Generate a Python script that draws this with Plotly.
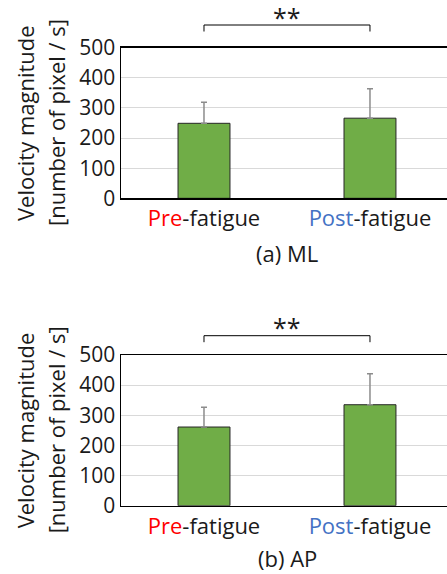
import plotly.graph_objects as go

categories = ["Pre-fatigue", "Post-fatigue"]
tick_labels = ["<span style='color:#FF0000'>Pre</span>-fatigue",
               "<span style='color:#4472C4'>Post</span>-fatigue"]
ml_mean = [249, 266]
ml_sd = [70, 98]
ap_mean = [261, 335]
ap_sd = [66, 103]
captions = ["(a) ML", "(b) AP"]
sig_label = "**"
y_ticks = [0, 100, 200, 300, 400, 500]

W, H = 447, 574
FONT = "Open Sans"
FS = 22
TFS = 21

def py(px):
    return 1 - px / H

fig = go.Figure()
xpos = [0, 1]
panels = [
    dict(mean=ml_mean, sd=ml_sd, top=47.7, bot=198.3, cap=253, brk=25, stars=17),
    dict(mean=ap_mean, sd=ap_sd, top=355, bot=505.7, cap=None, brk=335.7, stars=327),
]
for i, p in enumerate(panels):
    ax = "" if i == 0 else str(i + 1)
    fig.add_trace(go.Bar(
        x=xpos, y=p["mean"], width=0.313,
        marker=dict(color="#70AD47", line=dict(color="#262626", width=1)),
        error_y=dict(type="data", symmetric=False, array=p["sd"],
                     arrayminus=[0] * len(p["sd"]),
                     color="#8c8c8c", thickness=1.5, width=3),
        xaxis="x" + ax, yaxis="y" + ax, showlegend=False, hoverinfo="skip",
    ))
    dom_y = [py(p["bot"]), py(p["top"])]
    fig.layout["xaxis" + ax] = dict(
        domain=[121 / W, 1], range=[-0.5, 1.464], anchor="y" + ax,
        tickvals=xpos, ticktext=tick_labels, showline=True, mirror=True,
        linecolor="black", linewidth=1.5, showgrid=False, zeroline=False,
        automargin=False, fixedrange=True,
        tickfont=dict(family=FONT, size=FS, color="#1a1a1a"), ticks="",
    )
    fig.layout["yaxis" + ax] = dict(
        domain=dom_y, range=[0, 500], anchor="x" + ax,
        tickvals=y_ticks, showline=True, linecolor="black", linewidth=1.5,
        showgrid=True, gridcolor="#D9D9D9", gridwidth=1, zeroline=False,
        automargin=False, fixedrange=True,
        tickfont=dict(family=FONT, size=TFS, color="#1a1a1a"), ticks="",
    )
    yc = py((p["top"] + p["bot"]) / 2)
    fig.add_annotation(text="Velocity magnitude", xref="paper", yref="paper",
                       x=25 / W, y=yc, textangle=-90, showarrow=False,
                       xanchor="center", yanchor="middle",
                       font=dict(family=FONT, size=FS, color="#1a1a1a"))
    fig.add_annotation(text="[number of pixel / s]", xref="paper", yref="paper",
                       x=56 / W, y=yc, textangle=-90, showarrow=False,
                       xanchor="center", yanchor="middle",
                       font=dict(family=FONT, size=FS, color="#1a1a1a"))
    if p["cap"] is not None:
        fig.add_annotation(text=captions[i], xref="paper", yref="paper",
                           x=287 / W, y=py(p["cap"]), showarrow=False,
                           xanchor="center", yanchor="middle",
                           font=dict(family=FONT, size=FS, color="#1a1a1a"))
    else:
        fig.add_annotation(text=captions[i], xref="paper", yref="paper",
                           x=287 / W, y=0, showarrow=False, borderpad=0,
                           xanchor="center", yanchor="bottom",
                           font=dict(family=FONT, size=FS, color="#1a1a1a"))
    # significance bracket
    xr = "x" + ax
    fig.add_shape(type="path", xref=xr, yref="paper",
                  path=f"M 0 {py(p['brk'] + 6.5)} L 0 {py(p['brk'])} L 1 {py(p['brk'])} L 1 {py(p['brk'] + 6.5)}",
                  line=dict(color="black", width=1))
    fig.add_annotation(text=sig_label, xref=xr, yref="paper", x=0.5,
                       y=py(p["stars"]), showarrow=False, xanchor="center",
                       yanchor="middle",
                       font=dict(family=FONT, size=25, color="#1a1a1a"))

fig.update_layout(width=W, height=H, margin=dict(l=0, r=0, t=0, b=0),
                  paper_bgcolor="white", plot_bgcolor="white", hovermode=False)
fig.write_html("out.html", config={"displayModeBar": False, "staticPlot": True},
               post_script="document.body.style.margin='0px';document.body.style.overflow='hidden';")
